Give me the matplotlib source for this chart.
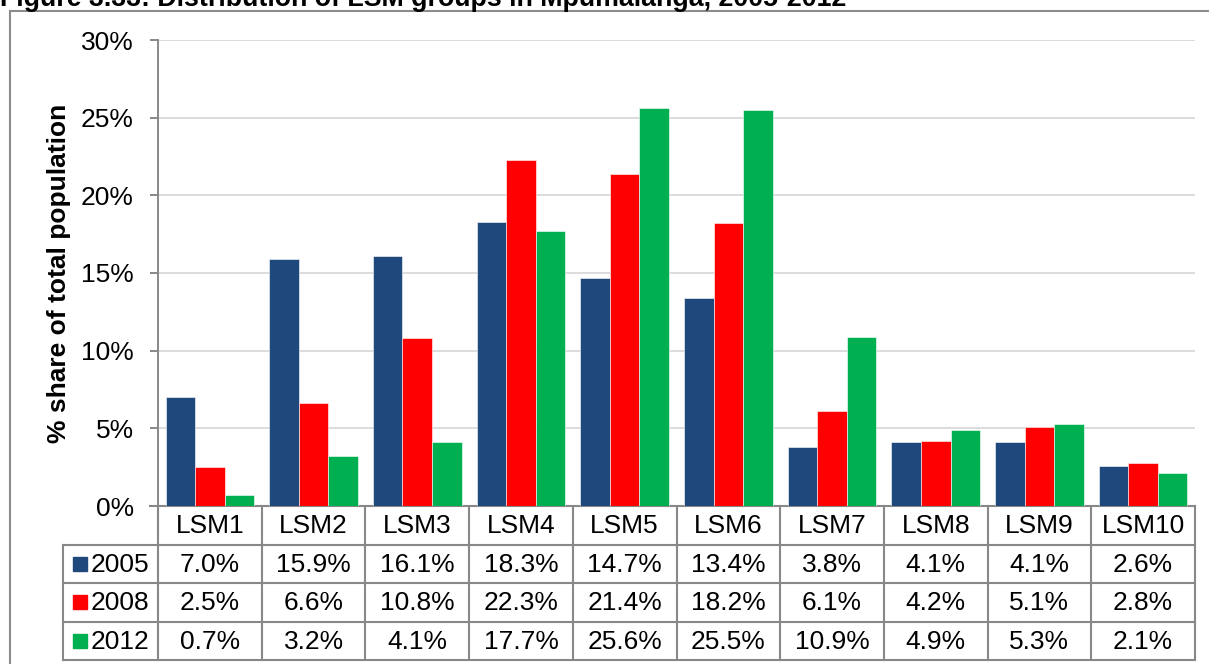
import numpy as np
import matplotlib.pyplot as plt
from matplotlib.lines import Line2D
from matplotlib.patches import Rectangle

plt.rcParams['font.family'] = ['Liberation Sans', 'DejaVu Sans']

# -------------------
# DATA
# -------------------
categories = ['LSM1', 'LSM2', 'LSM3', 'LSM4', 'LSM5', 'LSM6', 'LSM7', 'LSM8', 'LSM9', 'LSM10']
years = ['2005', '2008', '2012']
share_2005 = [7.0, 15.9, 16.1, 18.3, 14.7, 13.4, 3.8, 4.1, 4.1, 2.6]
share_2008 = [2.5, 6.6, 10.8, 22.3, 21.4, 18.2, 6.1, 4.2, 5.1, 2.8]
share_2012 = [0.7, 3.2, 4.1, 17.7, 25.6, 25.5, 10.9, 4.9, 5.3, 2.1]
series = [share_2005, share_2008, share_2012]
colors = ['#1F497D', '#FF0000', '#00B050']
yticks = [0, 5, 10, 15, 20, 25, 30]

W, H = 1209, 664
FS = 19
GRID_COL = '#888888'


def px_box(x0, y0, x1, y1):
    # pixel box (top-left origin) -> figure fraction rect
    return [x0 / W, 1 - y1 / H, (x1 - x0) / W, (y1 - y0) / H]


fig = plt.figure(figsize=(W / 100, H / 100), dpi=100)

# outer frame and caption (runs off the top edge)
fig.add_artist(Line2D([10 / W, 10 / W], [0, 1 - 11 / H], color='#8c8c8c', lw=1.5))
fig.add_artist(Line2D([10 / W, 1], [1 - 11 / H, 1 - 11 / H], color='#8c8c8c', lw=1.5))
fig.text(0 / W, 1 - 6 / H, 'Figure 3.33: Distribution of LSM groups in Mpumalanga, 2005-2012',
         fontsize=19.3, fontweight='bold', va='baseline', ha='left')

# -------------------
# BAR CHART
# -------------------
ax_left, ax_right, ax_top, ax_bot = 158, 1195, 40, 506
ax = fig.add_axes(px_box(ax_left, ax_top, ax_right, ax_bot))

x = np.arange(len(categories))
width = 0.285
for i, (vals, col) in enumerate(zip(series, colors)):
    ax.bar(x + (i - 1) * width, vals, width, color=col, edgecolor='white', linewidth=0.4, zorder=3)

ax.set_xlim(-0.5, len(categories) - 0.5)
ax.set_ylim(0, 30)
ax.set_yticks(yticks)
ax.set_yticklabels([f'{t}%' for t in yticks], fontsize=FS)
ax.set_xticks([])
ax.grid(axis='y', color='#d9d9d9', lw=1.3, zorder=0)
for s in ['top', 'right']:
    ax.spines[s].set_visible(False)
ax.spines['left'].set_color(GRID_COL)
ax.spines['left'].set_linewidth(1.4)
ax.spines['bottom'].set_visible(False)
ax.tick_params(axis='y', length=6, width=1.4, color=GRID_COL, pad=11.5)
ax.set_ylabel('% share of total population', fontsize=FS, fontweight='bold')
ax.yaxis.set_label_coords(-87 / (ax_right - ax_left), 0.5)

# -------------------
# DATA TABLE
# -------------------
tbl_left, tbl_bot = 63, 660
col_w = (ax_right - ax_left) / len(categories)
lab_left = -0.5 - (ax_left - tbl_left) / col_w
tab = fig.add_axes(px_box(tbl_left, ax_bot, ax_right, tbl_bot))
tab.set_xlim(lab_left, len(categories) - 0.5)
tab.set_ylim(4, 0)
tab.axis('off')

line_kw = dict(color=GRID_COL, lw=1.5, clip_on=False, solid_capstyle='projecting')
# line under the bars (0% axis), extended to the tick stub
ax.plot([-0.5 - 8 / col_w, len(categories) - 0.5], [0, 0], **line_kw)
for r in range(1, 5):
    tab.plot([lab_left, len(categories) - 0.5], [r, r], **line_kw)
for c in range(len(categories) + 1):
    tab.plot([c - 0.5, c - 0.5], [0, 4], **line_kw)
tab.plot([lab_left, lab_left], [1, 4], **line_kw)

for c, name in enumerate(categories):
    tab.text(c, 0.52, name, ha='center', va='center', fontsize=FS)
for r, (yr, vals, col) in enumerate(zip(years, series, colors), start=1):
    sq = 14 / col_w
    tab.add_patch(Rectangle((lab_left + 10 / col_w, r + 0.5 - 0.18), sq, 0.36,
                            color=col, clip_on=False))
    tab.text(lab_left + 28 / col_w, r + 0.52, yr, ha='left', va='center', fontsize=FS)
    for c, v in enumerate(vals):
        tab.text(c, r + 0.52, f'{v:.1f}%', ha='center', va='center', fontsize=FS)

plt.savefig('out.png', dpi=100)
